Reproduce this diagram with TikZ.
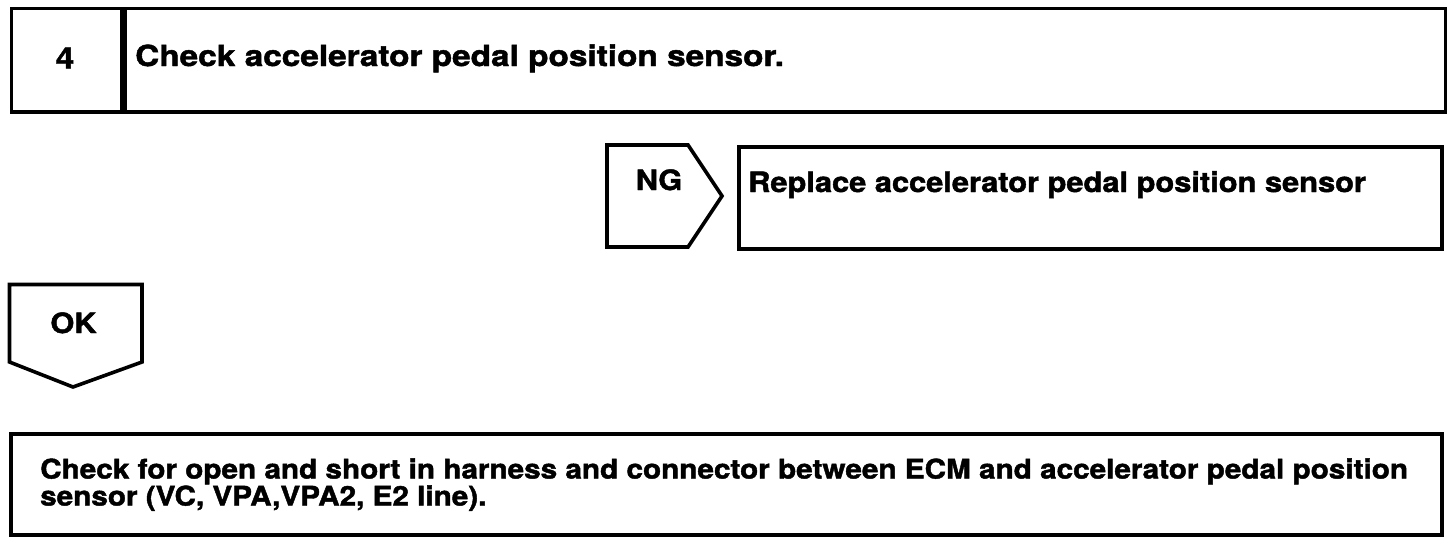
\documentclass[tikz,border=0pt]{standalone}
\usepackage{fontspec}
\setmainfont{TeX Gyre Heros}[FakeStretch=1.1, BoldFeatures={FakeBold=1.6}]
\newfontfamily\widefont{TeX Gyre Heros}[FakeStretch=1.15, BoldFeatures={FakeBold=1.6}]
\usetikzlibrary{positioning}

\tikzset{
  frame/.style={draw, line width=3.6pt, inner sep=0pt},
  caption/.style={inner sep=0pt, font=\bfseries\fontsize{28}{24}\selectfont},
}

\begin{document}
\begin{tikzpicture}[x=1pt, y=-1pt]
    \useasboundingbox (0,0) rectangle (1456,542);

    % step header
    \node [frame, anchor=north west, minimum width=110.5pt, minimum height=103.5pt] (stepno) at (9.5,6.5) {};
    \node [frame, anchor=north west, minimum width=1320pt, minimum height=103.5pt] (title) at (stepno.north east) {};
    \node [caption, font=\widefont\bfseries\fontsize{29}{29}\selectfont] (num) at (65,58) {4};
    \node [caption, font=\widefont\bfseries\fontsize{29}{29}\selectfont, anchor=base west] (titletxt) at (135,66) {Check accelerator pedal position sensor.};

    % NG branch
    \draw [frame, line join=miter] (607,145) coordinate (ngtl) -- (688,145) -- (722,196) coordinate (ngtip) -- (688,247) -- (607,247) -- cycle;
    \node [caption, anchor=base] (ng) at (659,190) {NG};
    \node [frame, anchor=north west, minimum width=703pt, minimum height=102pt] (fix) at (737,145) {};
    \node [caption, anchor=base west] (fixtxt) at (748,192) {Replace accelerator pedal position sensor};

    % OK branch
    \draw [frame, line join=miter] (9.5,284.5) -- (142,284.5) -- (142,362) -- (73,387) coordinate (oktip) -- (9.5,362) -- cycle;
    \node [caption, anchor=base] (ok) at (73.5,333) {OK};

    % next check
    \node [frame, anchor=north west, minimum width=1431pt, minimum height=101pt] (next) at (9,432) {};
    \node [caption, font=\bfseries\fontsize{27}{24}\selectfont, anchor=base west, align=left] (nexttxt) at (40,505.5)
        {Check for open and short in harness and connector between ECM and accelerator pedal position\\sensor (VC, VPA,VPA2, E2 line).};
\end{tikzpicture}
\end{document}
